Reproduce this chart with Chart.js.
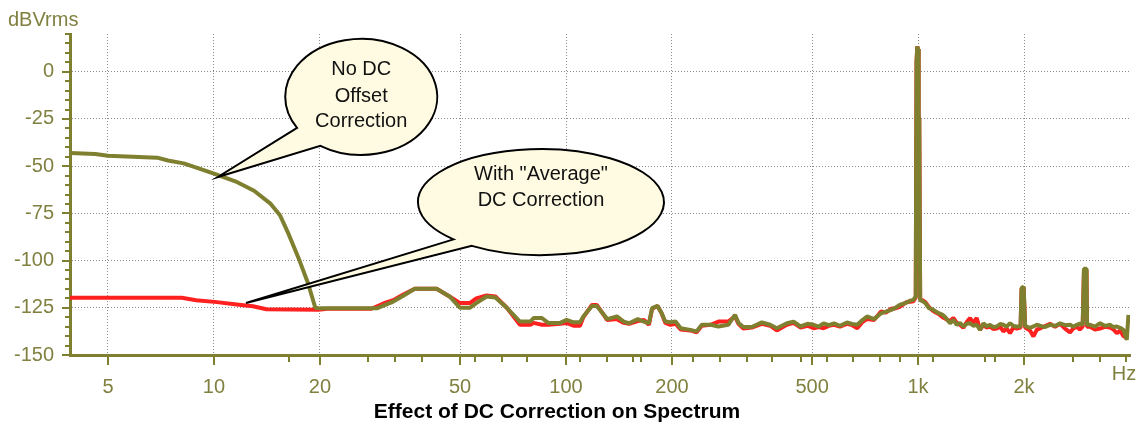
<!DOCTYPE html>
<html>
<head>
<meta charset="utf-8">
<script src="https://cdn.jsdelivr.net/npm/chart.js@4/dist/chart.umd.min.js"></script>
<style>
  body { margin: 0; background: #fff; }
  canvas { display: block; }
</style>
</head>
<body>
<canvas id="spectrum" width="1144" height="423"></canvas>
<script>
// spectrum without DC offset correction (Hz / dBVrms)
const noDcHz = [3.9, 4.6, 5.0, 6.9, 7.4, 8.2, 9.0, 10.0, 11.5, 13.0,
  14.5, 15.4, 16.3, 17.5, 18.5, 19.4, 20, 29, 32.3, 34.5,
  37.2, 42.9, 46.7, 50, 53.3, 55.6, 59.5, 63, 67.9, 74,
  79.3, 80.9, 85.4, 89, 96.3, 100.4, 105, 109.6, 112, 118.5,
  122.3, 129.3, 130.8, 139.5, 145.9, 151, 160, 166.5, 172, 175.6,
  182, 187, 191.4, 198, 205, 211.6, 225.5, 235, 243, 257.5,
  271, 289, 302, 309, 319, 337, 360, 380, 397, 424,
  443, 464, 485, 505, 522, 539, 558, 577, 600, 628,
  650, 672, 695, 716, 750, 785, 810, 839, 865, 887,
  927, 950, 970, 985, 990, 995, 1000, 1004, 1008, 1014,
  1030, 1049, 1073, 1100, 1122, 1150, 1174, 1200, 1233, 1260,
  1288, 1315, 1345, 1375, 1405, 1435, 1468, 1500, 1533, 1565,
  1601, 1635, 1673, 1710, 1747, 1785, 1825, 1865, 1907, 1955,
  1968, 1995, 2015, 2036, 2080, 2127, 2175, 2221, 2290, 2371,
  2450, 2532, 2615, 2703, 2760, 2826, 2880, 2935, 2960, 3010,
  3020, 3082, 3180, 3290, 3400, 3513, 3590, 3670, 3750, 3834,
  3916, 3960];
const noDcDb = [-43, -43.5, -44.5, -45.5, -47, -48.5, -51, -54, -58, -63,
  -70, -76, -86, -100, -112, -125, -125.3, -125.3, -121.7, -118.6,
  -114.9, -114.9, -119, -125, -125, -122.5, -119, -119.5, -125, -132.3,
  -132.3, -130.4, -130.4, -133, -133, -131.4, -132.7, -132.7, -129.6, -124,
  -124, -129.6, -131, -129.6, -132.3, -133.2, -131, -132.3, -133.2, -125.2,
  -124, -127.9, -132.3, -132.7, -132.3, -135.8, -136.7, -137.5, -134, -134,
  -134.9, -134, -128.7, -133, -135.2, -135.2, -132.7, -134, -135.8, -133.2,
  -132.3, -134.9, -133.5, -134, -135, -133.2, -134.2, -133.2, -134.5, -132.8,
  -133.6, -134, -131.5, -129.6, -131, -127.9, -127, -126.1, -124.8, -123.5,
  -122.3, -121.2, -120.8, -119, 5, 13.4, 12, -24, -25, -121,
  -121.5, -122.5, -125.2, -125.8, -126.9, -128, -128.7, -130.4, -133.2, -131.4,
  -134, -133, -134.9, -133.5, -133.2, -134.5, -134, -136.7, -133.2, -134.8,
  -134, -135.2, -134.9, -133.6, -134, -135, -133.2, -134.6, -134.9, -134.9,
  -114.6, -113.7, -134.9, -134.9, -135.6, -134.9, -134, -134.5, -135.2, -134,
  -134.6, -133.2, -134.2, -134, -135, -134, -133.4, -134, -104.3, -104.3,
  -134, -134, -135, -133.2, -134.6, -134, -135.2, -134.9, -135.6, -136.7,
  -142, -128.7];

// spectrum with "Average" DC correction
const avgHz = [3.9, 8.1, 8.9, 10.2, 11.6, 12.9, 14.1, 19.8, 21, 28,
  30.4, 32.3, 34.5, 37.2, 42.9, 46.7, 50, 53.3, 55.6, 59.5,
  63, 67.9, 74, 79.3, 80.9, 85.4, 89, 96.3, 100.4, 105,
  109.6, 112, 118.5, 122.3, 129.3, 130.8, 139.5, 145.9, 151, 160,
  166.5, 172, 175.6, 182, 187, 191.4, 198, 205, 211.6, 225.5,
  235, 243, 257.5, 271, 289, 302, 309, 319, 337, 360,
  380, 397, 424, 443, 464, 485, 505, 522, 539, 558,
  577, 600, 628, 650, 672, 695, 716, 750, 785, 810,
  839, 865, 887, 927, 950, 970, 985, 990, 995, 1000,
  1004, 1008, 1014, 1030, 1049, 1073, 1100, 1122, 1150, 1174,
  1200, 1233, 1260, 1288, 1315, 1345, 1375, 1405, 1435, 1468,
  1500, 1533, 1565, 1601, 1635, 1673, 1710, 1747, 1785, 1825,
  1865, 1907, 1955, 1968, 1995, 2015, 2036, 2080, 2127, 2175,
  2221, 2290, 2371, 2450, 2532, 2615, 2703, 2760, 2826, 2880,
  2935, 2960, 3010, 3020, 3082, 3180, 3290, 3400, 3513, 3590,
  3670, 3750, 3834, 3916];
const avgDb = [-119.7, -119.7, -121, -122, -123.2, -124.2, -125.8, -126, -125.5, -125.5,
  -122.6, -121, -118, -114.9, -114.9, -119, -122.5, -122.5, -120, -118.5,
  -119, -125, -134, -134, -133, -134, -134, -133.5, -133, -134.5,
  -134.5, -130, -123.5, -123.5, -130, -131.5, -131, -133, -133.5, -132,
  -131.5, -134, -125.5, -124, -128, -133, -134, -133.5, -136.5, -137,
  -138, -134.5, -134, -132.3, -132.3, -129.5, -133.5, -136, -135.5, -133.5,
  -134.5, -137, -134, -133, -135.5, -134.5, -135.8, -135.2, -135.8, -134.6,
  -134, -135, -133.5, -134.2, -135.8, -132.5, -131, -131.5, -127, -127.5,
  -125.5, -125.2, -124.5, -122, -121.8, -121.5, -119.5, 5, 13.4, 12,
  -24, -25, -120.5, -121, -122, -124.5, -126.5, -127.5, -128.5, -130,
  -131, -132, -130.4, -133, -134, -135.5, -132.5, -130.4, -133, -130.4,
  -136.7, -134, -135.5, -135, -136.2, -136, -135, -137.5, -136, -138.4,
  -135.5, -136, -135.5, -115, -114, -135.5, -136, -137, -140.2, -136.5,
  -136, -134.8, -133.5, -135, -133.5, -136, -138, -136, -135, -136.5,
  -135, -105, -105, -135, -135, -136.5, -136, -135, -135.5, -136.5,
  -138.5, -137, -140, -141];

// axis ticks
const majorHz = [5, 10, 20, 50, 100, 200, 500, 1000, 2000];
const minorHz = [16.3, 27.4, 32.6, 38.9, 55, 65.6, 77.4, 109.6, 131, 155, 163,
  229, 274, 326, 385, 464, 551, 652, 780, 889, 1105, 1550, 1655, 2760, 3290, 3900];
const dbTicks = [-150, -125, -100, -75, -50, -25, 0];

const olive = '#7f7f30';
const oliveText = '#808040';
const red = '#ff2020';
const font = '"Liberation Sans", Arial, sans-serif';

// speech bubbles: centre and tip in data units, tail base as ellipse angles
const callouts = [
  {lines: ['No DC', 'Offset', 'Correction'], hz: 26.2, db: -13.3, rx: 76, ry: 58,
   tipHz: 10.26, tipDb: -55.7, tail: [147.6, 122.5], dy: [-27, 0, 25]},
  {lines: ['With "Average"', 'DC Correction'], hz: 84.9, db: -69, rx: 123, ry: 53,
   tipHz: 12.33, tipDb: -122.5, tail: [135.3, 124.2], dy: [-28, -2]}
];

function toPoints(hz, db) {
  return hz.map((f, i) => ({x: f, y: db[i]}));
}

const decorations = {
  id: 'decorations',
  afterDatasetsDraw(chart) {
    const ctx = chart.ctx, xs = chart.scales.x, ys = chart.scales.y;
    callouts.forEach(b => {
      const cx = xs.getPixelForValue(b.hz), cy = ys.getPixelForValue(b.db);
      const tx = xs.getPixelForValue(b.tipHz), ty = ys.getPixelForValue(b.tipDb);
      const a1 = b.tail[0] * Math.PI / 180, a2 = b.tail[1] * Math.PI / 180;
      ctx.save();
      ctx.beginPath();
      ctx.moveTo(cx + b.rx * Math.cos(a1), cy + b.ry * Math.sin(a1));
      ctx.lineTo(tx, ty);
      ctx.lineTo(cx + b.rx * Math.cos(a2), cy + b.ry * Math.sin(a2));
      ctx.ellipse(cx, cy, b.rx, b.ry, 0, a2, a1, true);
      ctx.closePath();
      ctx.fillStyle = '#fffbe2';
      ctx.fill();
      ctx.lineWidth = 2;
      ctx.strokeStyle = '#000';
      ctx.lineJoin = 'miter';
      ctx.stroke();
      ctx.fillStyle = '#111';
      ctx.font = '20px ' + font;
      ctx.textAlign = 'center';
      ctx.textBaseline = 'middle';
      b.lines.forEach((t, i) => ctx.fillText(t, cx, cy + b.dy[i]));
      ctx.restore();
    });
  },
  afterDraw(chart) {
    const ctx = chart.ctx, xs = chart.scales.x, ys = chart.scales.y;
    const area = chart.chartArea;
    ctx.save();
    ctx.strokeStyle = olive;
    ctx.lineWidth = 2;
    ctx.beginPath();
    majorHz.forEach(v => {
      const x = Math.round(xs.getPixelForValue(v));
      ctx.moveTo(x, area.bottom); ctx.lineTo(x, area.bottom + 10);
    });
    minorHz.forEach(v => {
      const x = Math.round(xs.getPixelForValue(v));
      ctx.moveTo(x, area.bottom); ctx.lineTo(x, area.bottom + 7);
    });
    for (let v = -150; v <= 20; v += 5) {
      const y = Math.round(ys.getPixelForValue(v));
      const len = v % 25 === 0 ? 8 : 5;
      ctx.moveTo(area.left, y); ctx.lineTo(area.left - len, y);
    }
    ctx.stroke();

    ctx.fillStyle = oliveText;
    ctx.font = '20px ' + font;
    ctx.textBaseline = 'middle';
    ctx.textAlign = 'left';
    ctx.fillText('dBVrms', 8, 20);
    ctx.textAlign = 'center';
    ctx.fillText('Hz', 1124, 374);

    ctx.fillStyle = '#000';
    ctx.font = 'bold 21px ' + font;
    ctx.fillText('Effect of DC Correction on Spectrum', 557, 412);
    ctx.restore();
  }
};

new Chart(document.getElementById('spectrum'), {
  type: 'line',
  data: {
    datasets: [
      {
        label: 'No DC Offset Correction',
        data: toPoints(noDcHz, noDcDb),
        borderColor: olive,
        borderWidth: 4,
        borderJoinStyle: 'bevel',
        pointRadius: 0,
        tension: 0
      },
      {
        label: 'With "Average" DC Correction',
        data: toPoints(avgHz, avgDb),
        borderColor: red,
        borderWidth: 4,
        borderJoinStyle: 'bevel',
        pointRadius: 0,
        tension: 0
      }
    ]
  },
  options: {
    responsive: false,
    animation: false,
    devicePixelRatio: 1,
    layout: {padding: {top: 34, right: 14, left: 0, bottom: 0}},
    plugins: {legend: {display: false}, tooltip: {enabled: false}},
    scales: {
      x: {
        type: 'logarithmic',
        min: 3.9,
        max: 4000,
        afterBuildTicks: s => { s.ticks = majorHz.map(v => ({value: v})); },
        afterFit: s => { s.height = 68; },
        ticks: {
          autoSkip: false,
          maxRotation: 0,
          padding: 20,
          color: oliveText,
          font: {family: font, size: 20},
          callback: v => v >= 1000 ? (v / 1000) + 'k' : String(v)
        },
        grid: {color: '#8c8c8c', lineWidth: 1, drawTicks: false},
        border: {color: olive, width: 3, dash: [1, 2]}
      },
      y: {
        min: -150,
        max: 20,
        afterBuildTicks: s => { s.ticks = dbTicks.map(v => ({value: v})); },
        afterFit: s => { s.width = 70; },
        ticks: {
          padding: 16,
          color: oliveText,
          font: {family: font, size: 20}
        },
        grid: {
          color: c => c.tick && c.tick.value === -150 ? 'rgba(0,0,0,0)' : '#8c8c8c',
          lineWidth: 1,
          drawTicks: false
        },
        border: {color: olive, width: 3, dash: [1, 2]}
      }
    }
  },
  plugins: [decorations]
});
</script>
</body>
</html>
